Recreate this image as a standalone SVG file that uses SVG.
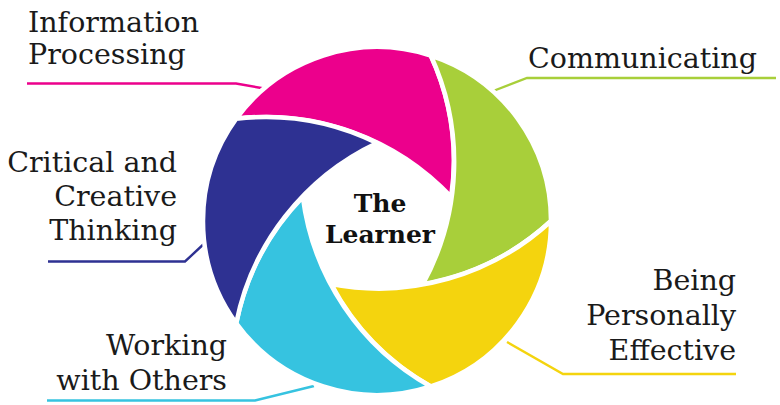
<svg xmlns="http://www.w3.org/2000/svg" xmlns:xlink="http://www.w3.org/1999/xlink" width="780" height="405" viewBox="0 0 780 405">
<style>
.blade{stroke:#fff;stroke-width:4.5;stroke-linejoin:round}
.lbl{font-family:"DejaVu Serif","Liberation Serif",serif;font-size:28.5px;fill:#1a1a1a}
.ctr{font-family:"DejaVu Serif","Liberation Serif",serif;font-size:25px;font-weight:bold;fill:#111;text-anchor:middle}
.lead{fill:none;stroke-width:2.4}
</style>
<defs>
<path id="blade" d="M -140.77 -102.28 A 174 174 0 0 1 53.77 -165.49 A 254 254 0 0 1 74.18 -24.10 A 254 254 0 0 0 -140.77 -102.28 Z"/>
</defs>
<rect width="780" height="405" fill="#fff"/>
<g id="connectors">
<polyline class="lead" stroke="#EC008C" points="27,83.5 236,83.5 273,90"/>
<polyline class="lead" stroke="#A8CF3A" points="776,78 527,78 488,93"/>
<polyline class="lead" stroke="#2E3192" points="48,261.5 185,261.5 207,241"/>
<polyline class="lead" stroke="#F4D40E" points="736,374 563,374 507,342"/>
<polyline class="lead" stroke="#36C3E0" points="47,400.5 255,400.5 314,386"/>
</g>
<g id="information-processing">
<use xlink:href="#blade" class="blade" fill="#EC008C" transform="translate(377 221)"/>
<text class="lbl" x="28" y="32">Information</text>
<text class="lbl" x="28" y="64">Processing</text>
</g>
<g id="communicating">
<use xlink:href="#blade" class="blade" fill="#A8CF3A" transform="translate(377 221) rotate(72)"/>
<text class="lbl" x="528" y="68">Communicating</text>
</g>
<g id="being-personally-effective">
<use xlink:href="#blade" class="blade" fill="#F4D40E" transform="translate(377 221) rotate(144)"/>
<text class="lbl" x="736" y="290" text-anchor="end">Being</text>
<text class="lbl" x="736" y="325" text-anchor="end">Personally</text>
<text class="lbl" x="736" y="360" text-anchor="end">Effective</text>
</g>
<g id="working-with-others">
<use xlink:href="#blade" class="blade" fill="#36C3E0" transform="translate(377 221) rotate(216)"/>
<text class="lbl" x="227" y="355" text-anchor="end">Working</text>
<text class="lbl" x="227" y="390" text-anchor="end">with Others</text>
</g>
<g id="critical-and-creative-thinking">
<use xlink:href="#blade" class="blade" fill="#2E3192" transform="translate(377 221) rotate(288)"/>
<text class="lbl" x="177" y="172" text-anchor="end">Critical and</text>
<text class="lbl" x="177" y="206" text-anchor="end">Creative</text>
<text class="lbl" x="177" y="240" text-anchor="end">Thinking</text>
</g>
<g id="the-learner">
<text class="ctr" x="380" y="212">The</text>
<text class="ctr" x="380" y="243">Learner</text>
</g>
</svg>
